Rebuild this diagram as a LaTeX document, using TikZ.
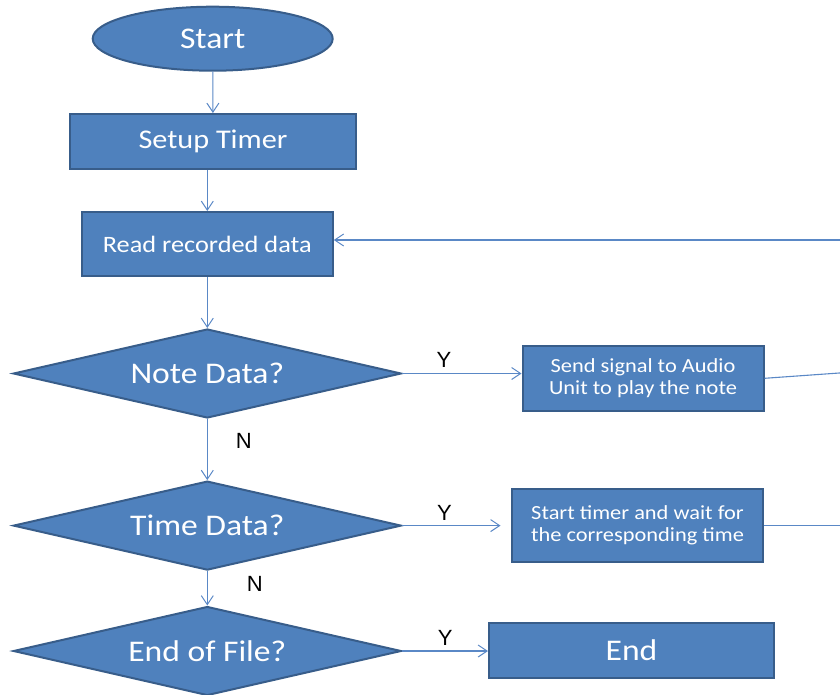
\documentclass[tikz,border=0pt]{standalone}
\usepackage{fontspec}
\usetikzlibrary{shapes.geometric,arrows.meta}
\newfontfamily\boxfont{Carlito}[FakeStretch=1.12]
\newfontfamily\labelfont{Liberation Sans}
\definecolor{boxfill}{HTML}{4F81BD}
\definecolor{boxline}{HTML}{385D8A}
\definecolor{wire}{HTML}{5A88C6}

\tikzset{
  shapebase/.style={fill=boxfill, draw=boxline, line width=2pt, text=white, inner sep=0pt, align=center},
  terminal/.style={shapebase, ellipse, minimum width=240pt, minimum height=64pt},
  process/.style={shapebase, rectangle},
  decision/.style={shapebase, diamond, aspect=4.36, minimum width=388pt, minimum height=89pt},
  big/.style={font=\boxfont\fontsize{30}{34}\selectfont},
  mid/.style={font=\boxfont\fontsize{27}{31}\selectfont},
  read/.style={font=\boxfont\fontsize{23.5}{27}\selectfont},
  small/.style={font=\boxfont\fontsize{20}{22.5}\selectfont},
  wirestyle/.style={draw=wire, line width=1.1pt},
  flow/.style={wirestyle, -{Straight Barb[length=9pt,width=12pt,line width=1pt]}},
  yn/.style={font=\labelfont\fontsize{22}{26}\selectfont, text=black, inner sep=0pt}
}

\begin{document}
\begin{tikzpicture}[x=1pt, y=-1pt]
  \useasboundingbox (0,0) rectangle (840,694);
  \clip (0,0) rectangle (840,694);

  % main column
  \node[terminal, big] (start) at (212.7,38.7) {Start};
  \node[process, mid, minimum width=286pt, minimum height=55pt] (setup) at (213,141.5) {Setup Timer};
  \node[process, read, minimum width=251pt, minimum height=64pt] (read) at (207.3,244) {Read recorded data};
  \node[decision, big] (note) at (207.3,373.5) {Note Data?};
  \node[decision, big] (time) at (207.3,525.6) {Time Data?};
  \node[decision, big] (eof) at (207.3,651) {End of File?};

  % actions on the right
  \node[process, small, minimum width=241pt, minimum height=65pt] (send) at (643,378.3) {Send signal to Audio\\Unit to play the note};
  \node[process, small, minimum width=251pt, minimum height=73pt] (wait) at (637.5,525.5) {Start timer and wait for\\the corresponding time};
  \node[process, big, minimum width=285pt, minimum height=55pt] (stop) at (631.5,650.5) {End};

  % loop-back rail along the right edge
  \coordinate (railtop) at (842,240);
  \coordinate (railsend) at (842,372.8);
  \coordinate (railwait) at (842,525.5);
  \coordinate (waitin) at (500.5,525.6);

  % vertical flow
  \draw[flow] (start) -- (setup);
  \draw[flow] (read.north |- setup.south) -- (read.north);
  \draw[flow] (read) -- (note);
  \draw[flow] (note) -- node[yn, pos=0.36, right=28pt] (n1) {N} (time);
  \draw[flow] (time) -- node[yn, pos=0.38, right=39pt] (n2) {N} (eof);

  % yes branches
  \draw[flow] (note.east) -- node[yn, pos=0.35, above=5pt] (y1) {Y} (note.east -| send.west);
  \draw[flow] (time.east) -- node[yn, pos=0.43, above=5pt] (y2) {Y} (waitin);
  \draw[flow] (eof.east) -- node[yn, pos=0.5, above=5pt] (y3) {Y} (eof.east -| stop.west);

  % returns to reading
  \draw[wirestyle] (send.east) -- (railsend);
  \draw[wirestyle] (wait.east) -- (railwait);
  \draw[flow] (railtop) -- (read.east |- railtop);
\end{tikzpicture}
\end{document}
